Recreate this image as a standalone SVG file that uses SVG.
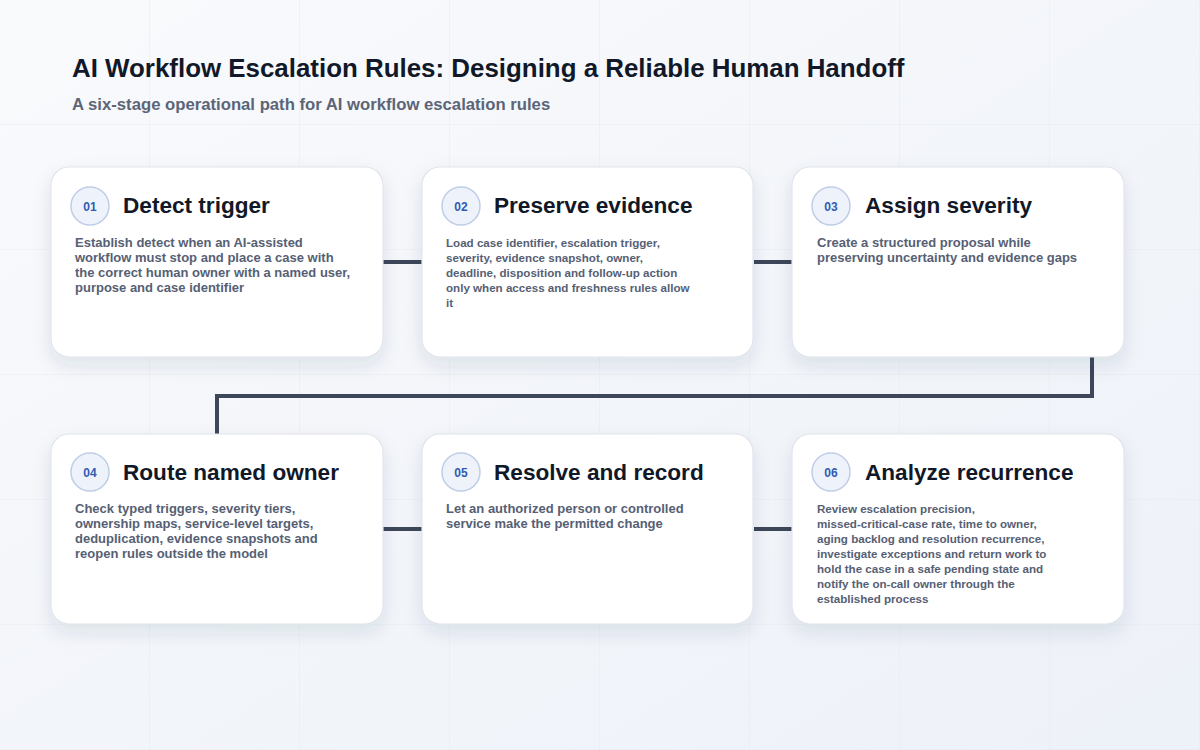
<svg xmlns="http://www.w3.org/2000/svg" width="1200" height="750" viewBox="0 0 1200 750">
<defs>
<linearGradient id="bg" x1="0" y1="0" x2="1" y2="1">
<stop offset="0" stop-color="#f9fafc"/>
<stop offset="1" stop-color="#edf1f8"/>
</linearGradient>
<pattern id="grid" x="0" y="0" width="150" height="125" patternUnits="userSpaceOnUse">
<path d="M150 0V125M0 125H150" fill="none" stroke="#e6eaf1" stroke-width="1"/>
</pattern>
<filter id="shadow" x="-20%" y="-20%" width="140%" height="150%">
<feDropShadow dx="0" dy="8" stdDeviation="9" flood-color="#1e2a44" flood-opacity="0.10"/>
</filter>
</defs>
<style>
.card{fill:#ffffff;stroke:#dfe4ec;stroke-width:1.2;filter:url(#shadow)}
.badge{fill:#eef3fb;stroke:#bfcde6;stroke-width:1.5}
.num{font-family:"Liberation Sans",Arial,sans-serif;font-size:12px;font-weight:700;fill:#2f5cb2;text-anchor:middle}
.title{font-family:"Liberation Sans",Arial,sans-serif;font-size:22.6px;font-weight:700;fill:#111827}
.body{font-family:"Liberation Sans",Arial,sans-serif;font-size:13px;font-weight:700;fill:#566074}
.small{font-family:"Liberation Sans",Arial,sans-serif;font-size:11.6px;font-weight:700;fill:#566074}
.conn{fill:none;stroke:#3d4759;stroke-width:4}
</style>
<rect width="1200" height="750" fill="url(#bg)"/>
<rect width="1200" height="750" fill="url(#grid)"/>
<text x="72" y="77" font-family="Liberation Sans, Arial, sans-serif" font-size="25.9" font-weight="700" fill="#111827">AI Workflow Escalation Rules: Designing a Reliable Human Handoff</text>
<text x="72" y="110" font-family="Liberation Sans, Arial, sans-serif" font-size="16.7" font-weight="700" fill="#5b6577">A six-stage operational path for AI workflow escalation rules</text>
<g id="connectors">
<path class="conn" d="M383 262H422"/>
<path class="conn" d="M754 262H792"/>
<path class="conn" d="M1092 357V396H217V434"/>
<path class="conn" d="M383 529H422"/>
<path class="conn" d="M754 529H792"/>
</g>
<g id="node1">
<rect class="card" x="51" y="167" width="332" height="190" rx="18"/>
<circle class="badge" cx="90" cy="206" r="19"/>
<text class="num" x="90" y="210.5">01</text>
<text class="title" x="123" y="213">Detect trigger</text>
<text class="body" x="75" y="247">Establish detect when an AI-assisted</text>
<text class="body" x="75" y="262">workflow must stop and place a case with</text>
<text class="body" x="75" y="277">the correct human owner with a named user,</text>
<text class="body" x="75" y="292">purpose and case identifier</text>
</g>
<g id="node2">
<rect class="card" x="422" y="167" width="331" height="190" rx="18"/>
<circle class="badge" cx="461" cy="206" r="19"/>
<text class="num" x="461" y="210.5">02</text>
<text class="title" x="494" y="213">Preserve evidence</text>
<text class="small" x="446" y="247">Load case identifier, escalation trigger,</text>
<text class="small" x="446" y="262">severity, evidence snapshot, owner,</text>
<text class="small" x="446" y="277">deadline, disposition and follow-up action</text>
<text class="small" x="446" y="292">only when access and freshness rules allow</text>
<text class="small" x="446" y="307">it</text>
</g>
<g id="node3">
<rect class="card" x="792" y="167" width="332" height="190" rx="18"/>
<circle class="badge" cx="831" cy="206" r="19"/>
<text class="num" x="831" y="210.5">03</text>
<text class="title" x="865" y="213">Assign severity</text>
<text class="body" x="817" y="247">Create a structured proposal while</text>
<text class="body" x="817" y="262">preserving uncertainty and evidence gaps</text>
</g>
<g id="node4">
<rect class="card" x="51" y="434" width="332" height="190" rx="18"/>
<circle class="badge" cx="90" cy="472" r="19"/>
<text class="num" x="90" y="476.5">04</text>
<text class="title" x="123" y="480">Route named owner</text>
<text class="body" x="75" y="513">Check typed triggers, severity tiers,</text>
<text class="body" x="75" y="528">ownership maps, service-level targets,</text>
<text class="body" x="75" y="543">deduplication, evidence snapshots and</text>
<text class="body" x="75" y="558">reopen rules outside the model</text>
</g>
<g id="node5">
<rect class="card" x="422" y="434" width="331" height="190" rx="18"/>
<circle class="badge" cx="461" cy="472" r="19"/>
<text class="num" x="461" y="476.5">05</text>
<text class="title" x="494" y="480">Resolve and record</text>
<text class="body" x="446" y="513">Let an authorized person or controlled</text>
<text class="body" x="446" y="528">service make the permitted change</text>
</g>
<g id="node6">
<rect class="card" x="792" y="434" width="332" height="190" rx="18"/>
<circle class="badge" cx="831" cy="472" r="19"/>
<text class="num" x="831" y="476.5">06</text>
<text class="title" x="865" y="480">Analyze recurrence</text>
<text class="small" x="817" y="513">Review escalation precision,</text>
<text class="small" x="817" y="528">missed-critical-case rate, time to owner,</text>
<text class="small" x="817" y="543">aging backlog and resolution recurrence,</text>
<text class="small" x="817" y="558">investigate exceptions and return work to</text>
<text class="small" x="817" y="573">hold the case in a safe pending state and</text>
<text class="small" x="817" y="588">notify the on-call owner through the</text>
<text class="small" x="817" y="603">established process</text>
</g>
</svg>
